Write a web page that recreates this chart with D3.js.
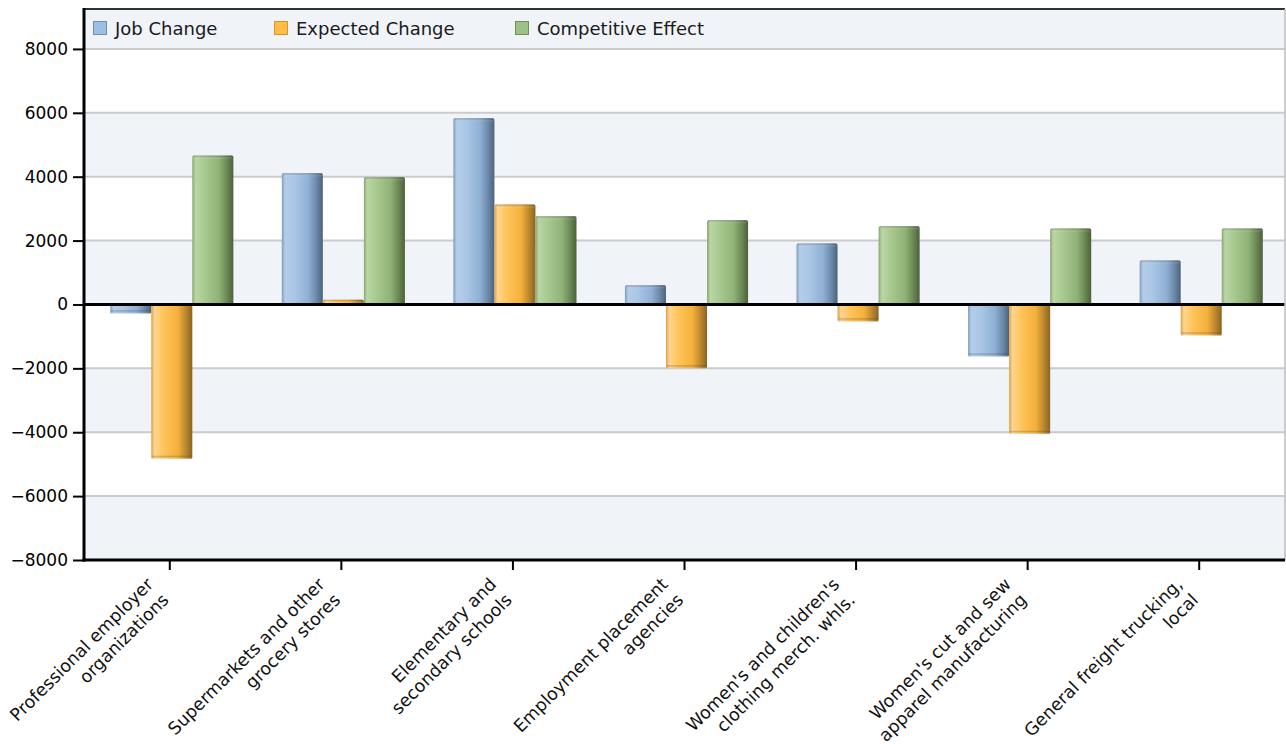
<!DOCTYPE html>
<html>
<head>
<meta charset="utf-8">
<script src="https://cdn.jsdelivr.net/npm/d3@7"></script>
<style>
  html, body { margin: 0; padding: 0; background: #ffffff; }
  svg { display: block; }
  text { font-family: "DejaVu Sans", sans-serif; }
</style>
</head>
<body>
<svg id="chart" width="1286" height="746"></svg>
<script>
// ---- data ----
const categories = [
  "Professional employer organizations",
  "Supermarkets and other grocery stores",
  "Elementary and secondary schools",
  "Employment placement agencies",
  "Women's and children's clothing merch. whls.",
  "Women's cut and sew apparel manufacturing",
  "General freight trucking, local"
];
const categoryLines = [
  ["Professional employer", "organizations"],
  ["Supermarkets and other", "grocery stores"],
  ["Elementary and", "secondary schools"],
  ["Employment placement", "agencies"],
  ["Women's and children's", "clothing merch. whls."],
  ["Women's cut and sew", "apparel manufacturing"],
  ["General freight trucking,", "local"]
];
const seriesNames = ["Job Change", "Expected Change", "Competitive Effect"];
const jobChange         = [-280, 4110, 5830,   600, 1910, -1630, 1380];
const expectedChange    = [-4830, 150, 3130, -2000, -530, -4050, -970];
const competitiveEffect = [4660, 3980, 2760,  2640, 2450,  2380, 2380];
const yTicks = [-8000, -6000, -4000, -2000, 0, 2000, 4000, 6000, 8000];
const yMax = 9250, yMin = -8000;

const seriesValues = [jobChange, expectedChange, competitiveEffect];

// ---- layout ----
const svg = d3.select("#chart");
const L = 84, R = 1285, T = 9, B = 560;

const x0 = d3.scaleBand().domain(categories).range([L, R]).padding(0);
const x1 = d3.scaleBand().domain(seriesNames).range([2, x0.bandwidth() + 2])
  .paddingInner(0).paddingOuter(0.59);
const y = d3.scaleLinear().domain([yMin, yMax]).range([B, T]);

// gradients
const defs = svg.append("defs");
const grads = {
  "Job Change": [[0, "#7f9cbd"], [0.08, "#b3cde8"], [0.3, "#aac7e6"], [0.65, "#8fb0d4"], [0.85, "#6a88a8"], [1, "#4c627b"]],
  "Expected Change": [[0, "#d9a048"], [0.08, "#fed590"], [0.3, "#ffc45a"], [0.65, "#f4b03c"], [0.85, "#b9862d"], [1, "#8b6422"]],
  "Competitive Effect": [[0, "#87a66f"], [0.08, "#b9d6a4"], [0.3, "#a8c990"], [0.65, "#8fb277"], [0.85, "#6a8753"], [1, "#4c603d"]]
};
const legendColors = {
  "Job Change": "#9dbfe2",
  "Expected Change": "#ffbd45",
  "Competitive Effect": "#9ec185"
};
const legendStroke = {
  "Job Change": "#6f8fb3",
  "Expected Change": "#d19528",
  "Competitive Effect": "#6f9157"
};
seriesNames.forEach((s, i) => {
  const g = defs.append("linearGradient").attr("id", "g" + i)
    .attr("x1", "0%").attr("x2", "100%").attr("y1", "0%").attr("y2", "0%");
  grads[s].forEach(st => g.append("stop").attr("offset", st[0]).attr("stop-color", st[1]));
});
const capGrad = defs.append("linearGradient").attr("id", "cap")
  .attr("x1", "0%").attr("x2", "0%").attr("y1", "0%").attr("y2", "100%");
capGrad.append("stop").attr("offset", 0).attr("stop-color", "#000").attr("stop-opacity", 0.25);
capGrad.append("stop").attr("offset", 1).attr("stop-color", "#fff").attr("stop-opacity", 0.15);

// background bands
const bandEdges = [yMin].concat(yTicks.slice(1)).concat([yMax]);
const bands = [];
for (let i = 0; i < bandEdges.length - 1; i++) {
  bands.push({ lo: bandEdges[i], hi: bandEdges[i + 1], shade: i % 2 === 0 });
}
svg.append("g").selectAll("rect").data(bands).join("rect")
  .attr("x", L).attr("width", R - L)
  .attr("y", d => y(d.hi)).attr("height", d => y(d.lo) - y(d.hi))
  .attr("fill", d => d.shade ? "#f0f3f8" : "#ffffff");

// gridlines
svg.append("g").selectAll("line").data(yTicks.filter(t => t !== 0 && t !== yMin)).join("line")
  .attr("x1", L).attr("x2", R)
  .attr("y1", d => y(d)).attr("y2", d => y(d))
  .attr("stroke", "#cbcbcb").attr("stroke-width", 2);

// bars
const barData = [];
categories.forEach((c, ci) => {
  seriesNames.forEach((s, si) => {
    barData.push({ cat: c, series: s, si: si, value: seriesValues[si][ci] });
  });
});
const barG = svg.append("g");
barG.selectAll("rect.bar").data(barData).join("rect")
  .attr("class", "bar")
  .attr("x", d => x0(d.cat) + x1(d.series))
  .attr("width", x1.bandwidth())
  .attr("y", d => y(Math.max(0, d.value)))
  .attr("height", d => Math.abs(y(d.value) - y(0)))
  .attr("rx", 1.5)
  .attr("fill", d => "url(#g" + d.si + ")");
// end caps (slight bevel at the outer end)
barG.selectAll("rect.cap").data(barData).join("rect")
  .attr("class", "cap")
  .attr("x", d => x0(d.cat) + x1(d.series) + 1)
  .attr("width", x1.bandwidth() - 2)
  .attr("y", d => d.value >= 0 ? y(d.value) : y(d.value) - 3)
  .attr("height", d => Math.min(3, Math.abs(y(d.value) - y(0))))
  .attr("fill", "url(#cap)");

// zero line
svg.append("line")
  .attr("x1", L).attr("x2", R).attr("y1", y(0)).attr("y2", y(0))
  .attr("stroke", "#000").attr("stroke-width", 3);

// frame: top and right
svg.append("line").attr("x1", L).attr("x2", R).attr("y1", T).attr("y2", T)
  .attr("stroke", "#333").attr("stroke-width", 2);
svg.append("line").attr("x1", R).attr("x2", R).attr("y1", T).attr("y2", B)
  .attr("stroke", "#bdbdbd").attr("stroke-width", 1.5);

// y axis
const yAxis = d3.axisLeft(y).tickValues(yTicks).tickSize(11).tickPadding(5)
  .tickFormat(d3.format("d"));
const yg = svg.append("g").attr("transform", `translate(${L},0)`).call(yAxis);
yg.select(".domain").attr("stroke", "#000").attr("stroke-width", 3)
  .attr("d", `M0,${T - 1}V${B + 1.5}`);
yg.selectAll(".tick line").attr("stroke", "#000").attr("stroke-width", 2);
yg.selectAll(".tick text").attr("fill", "#000").style("font-size", "17px")
  .style("font-family", "DejaVu Sans, sans-serif");

// x axis
const xAxis = d3.axisBottom(x0).tickSize(10).tickFormat("");
const xg = svg.append("g").attr("transform", `translate(0,${B})`).call(xAxis);
xg.select(".domain").attr("stroke", "#000").attr("stroke-width", 3)
  .attr("d", `M${L - 1.5},0H${R}`);
xg.selectAll(".tick line").attr("stroke", "#000").attr("stroke-width", 2);

// rotated two-line category labels
const lblG = svg.append("g");
categories.forEach((c, ci) => {
  const cx = x0(c) + x0.bandwidth() / 2;
  const g = lblG.append("g")
    .attr("transform", `translate(${cx},${B + 41}) rotate(-45)`);
  const lines = categoryLines[ci];
  lines.forEach((ln, li) => {
    g.append("text")
      .attr("x", 0)
      .attr("y", (li - (lines.length - 1)) * 22)
      .attr("text-anchor", "end")
      .attr("fill", "#111")
      .style("font-size", "17.5px")
      .text(ln);
  });
});

// legend
const legendX = [93, 274, 515];
const lg = svg.append("g");
seriesNames.forEach((s, i) => {
  lg.append("rect")
    .attr("x", legendX[i] + 0.5).attr("y", 21.5)
    .attr("width", 13).attr("height", 13)
    .attr("fill", legendColors[s]).attr("stroke", legendStroke[s]).attr("stroke-width", 1);
  lg.append("text")
    .attr("x", legendX[i] + 22).attr("y", 35)
    .attr("fill", "#1a1a1a")
    .style("font-size", "18px")
    .text(s);
});
</script>
</body>
</html>
